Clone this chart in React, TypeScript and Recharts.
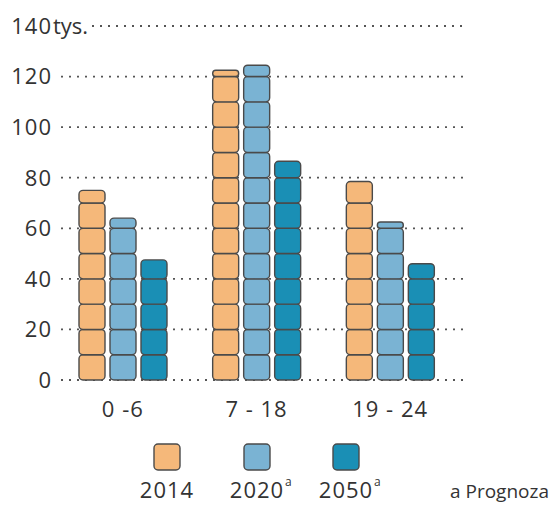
import { BarChart, Bar, XAxis, YAxis, CartesianGrid } from 'recharts'

const groups = ['0 -6', '7 - 18', '19 - 24']
const y2014 = [75, 122.5, 78.5]
const y2020 = [64, 124.5, 62.5]
const y2050 = [47.5, 86.5, 46]
const yTicks = [0, 20, 40, 60, 80, 100, 120, 140]

const series = [
  { key: 'v2014', label: '2014', sup: '', color: '#F5B87A' },
  { key: 'v2020', label: '2020', sup: 'a', color: '#7AB3D3' },
  { key: 'v2050', label: '2050', sup: 'a', color: '#1A8FB5' },
]

const data = groups.map((g, i) => ({ group: g, v2014: y2014[i], v2020: y2020[i], v2050: y2050[i] }))

const FONT = '"Open Sans", sans-serif'
const INK = '#333333'
const EDGE = '#4a4a4a'

// one block = 10 units, drawn from the bottom; the rest sits on top as a thin block
function BlockBar(props: any) {
  const { x, y, width, height, fill, v } = props
  if (!v || !height) return null
  const unit = height / v
  const blk = unit * 10
  const bottom = y + height
  const full = Math.floor(v / 10 + 1e-9)
  const rest = v - full * 10
  const rects = []
  for (let i = 0; i < full; i++) {
    rects.push(
      <rect key={i} x={x} y={bottom - (i + 1) * blk} width={width} height={blk} rx={4} ry={4}
        fill={fill} stroke={EDGE} strokeWidth={1.4} />
    )
  }
  if (rest > 0.01) {
    const h = rest * unit
    rects.push(
      <rect key="top" x={x} y={y} width={width} height={h} rx={Math.min(4, h / 2)} ry={Math.min(4, h / 2)}
        fill={fill} stroke={EDGE} strokeWidth={1.4} />
    )
  }
  return <g>{rects}</g>
}

function YTick(props: any) {
  const { x, y, payload } = props
  if (payload.value === 140) {
    return (
      <g>
        <text x={x} y={y} dy="0.36em" textAnchor="end" fill={INK} fontSize={22} fontFamily={FONT} letterSpacing={1}>140</text>
        <text x={x + 1} y={y} dy="0.36em" textAnchor="start" fill={INK} fontSize={22} fontFamily={FONT}>tys.</text>
      </g>
    )
  }
  return (
    <text x={x} y={y} dy="0.36em" textAnchor="end" fill={INK} fontSize={22} fontFamily={FONT} letterSpacing={1}>
      {payload.value}
    </text>
  )
}

function XTick(props: any) {
  const { x, y, payload } = props
  return (
    <text x={x} y={y + 37} textAnchor="middle" fill={INK} fontSize={22} fontFamily={FONT} letterSpacing={1}>
      {payload.value}
    </text>
  )
}

function GridLine(props: any) {
  const { y1, y2, x2 } = props
  const isTop = Math.abs(y1 - 26) < 2
  return (
    <line key={props.key} x1={isTop ? 92 : 61} x2={x2} y1={y1} y2={y2}
      stroke="#555" strokeWidth={1.8} strokeDasharray="2 6" />
  )
}

export default function App() {
  return (
    <div style={{ position: 'absolute', left: 0, top: 0, width: 552, height: 505 }}>
      <BarChart width={552} height={505} data={data} margin={{ top: 26, right: 87, left: 0, bottom: 75 }}
        barSize={26} barGap={5}>
        <CartesianGrid vertical={false} horizontal={GridLine as any} />
        <XAxis dataKey="group" axisLine={false} tickLine={false} tickSize={0} tickMargin={0} height={50}
          padding={{ left: 0, right: 8 }} tick={<XTick />} interval={0} />
        <YAxis domain={[0, 140]} ticks={yTicks} axisLine={false} tickLine={false} tickSize={0} tickMargin={4}
          width={56} tick={<YTick />} interval={0} />
        {series.map(s => (
          <Bar key={s.key} dataKey={s.key} fill={s.color} isAnimationActive={false}
            shape={(p: any) => <BlockBar {...p} v={p.payload[s.key]} fill={s.color} />} />
        ))}
      </BarChart>
      <svg width={552} height={505} style={{ position: 'absolute', left: 0, top: 0, pointerEvents: 'none' }}>
        {series.map((s, i) => {
          const cx = [167, 257, 346][i]
          return (
            <g key={s.key}>
              <rect x={cx - 13} y={444} width={26} height={26} rx={4} ry={4} fill={s.color} stroke={EDGE} strokeWidth={1.4} />
              <text x={cx} y={498} textAnchor="middle" fill={INK} fontSize={22} fontFamily={FONT} letterSpacing={1}>
                {s.label}
              </text>
              {s.sup && (
                <text x={cx + 28} y={486} textAnchor="start" fill={INK} fontSize={12} fontFamily={FONT}>{s.sup}</text>
              )}
            </g>
          )
        })}
        <text x={450} y={498} textAnchor="start" fill={INK} fontSize={19} fontFamily={FONT}>a Prognoza</text>
      </svg>
    </div>
  )
}
